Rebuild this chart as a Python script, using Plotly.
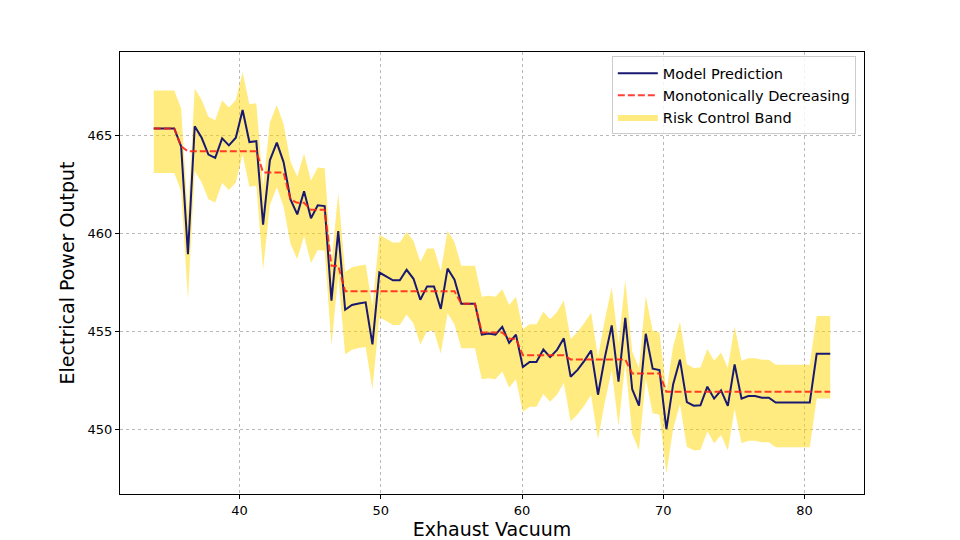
import plotly.graph_objects as go

# Exhaust vacuum grid (x values)
exhaust_vacuum = [
    33.93, 34.41, 34.90, 35.38, 35.87, 36.35, 36.83, 37.32, 37.80, 38.28,
    38.77, 39.25, 39.74, 40.22, 40.70, 41.19, 41.67, 42.15, 42.64, 43.12,
    43.61, 44.09, 44.57, 45.06, 45.54, 46.03, 46.51, 46.99, 47.48, 47.96,
    48.44, 48.93, 49.41, 49.90, 50.38, 50.86, 51.35, 51.83, 52.32, 52.80,
    53.28, 53.77, 54.25, 54.73, 55.22, 55.70, 56.19, 56.67, 57.15, 57.64,
    58.12, 58.60, 59.09, 59.57, 60.06, 60.54, 61.02, 61.51, 61.99, 62.48,
    62.96, 63.44, 63.93, 64.41, 64.89, 65.38, 65.86, 66.35, 66.83, 67.31,
    67.80, 68.28, 68.76, 69.25, 69.73, 70.22, 70.70, 71.18, 71.67, 72.15,
    72.63, 73.12, 73.60, 74.09, 74.57, 75.05, 75.54, 76.02, 76.50, 76.99,
    77.47, 77.96, 78.44, 78.92, 79.41, 79.89, 80.37, 80.86, 81.34, 81.82,
]

# Model prediction (electrical power output)
model_prediction = [
    465.36, 465.36, 465.36, 465.36, 464.44, 458.94, 465.47, 464.88, 464.02, 463.85,
    464.85, 464.49, 464.88, 466.30, 464.66, 464.71, 460.44, 463.73, 464.63, 463.64,
    461.73, 460.97, 462.15, 460.77, 461.43, 461.39, 456.56, 460.12, 456.10, 456.34,
    456.42, 456.48, 454.33, 458.00, 457.80, 457.60, 457.60, 458.14, 457.68, 456.61,
    457.29, 457.29, 456.14, 458.20, 457.63, 456.41, 456.41, 456.41, 454.83, 454.88,
    454.83, 455.22, 454.41, 454.83, 453.17, 453.43, 453.43, 454.07, 453.68, 454.05,
    454.64, 452.68, 453.03, 453.49, 454.02, 451.76, 453.65, 455.30, 452.43, 455.68,
    452.04, 451.20, 454.87, 453.09, 453.02, 450.00, 452.30, 453.55, 451.38, 451.20,
    451.22, 452.17, 451.56, 451.98, 451.19, 453.31, 451.56, 451.69, 451.69, 451.61,
    451.61, 451.36, 451.36, 451.36, 451.36, 451.36, 451.36, 453.85, 453.85, 453.85,
]

# Monotonically decreasing fit
monotone_fit = [
    465.36, 465.36, 465.36, 465.36, 464.44, 464.19, 464.19, 464.19, 464.19, 464.19,
    464.19, 464.19, 464.19, 464.19, 464.19, 464.19, 463.11, 463.11, 463.11, 463.11,
    461.73, 461.56, 461.56, 461.20, 461.20, 461.20, 458.34, 458.34, 457.04, 457.04,
    457.04, 457.04, 457.04, 457.04, 457.04, 457.04, 457.04, 457.04, 457.04, 457.04,
    457.04, 457.04, 457.04, 457.04, 457.04, 456.41, 456.41, 456.41, 454.94, 454.94,
    454.94, 454.94, 454.62, 454.62, 453.78, 453.78, 453.78, 453.78, 453.78, 453.78,
    453.78, 453.56, 453.56, 453.56, 453.56, 453.56, 453.56, 453.56, 453.56, 453.56,
    452.84, 452.84, 452.84, 452.84, 452.84, 451.91, 451.91, 451.91, 451.91, 451.91,
    451.91, 451.91, 451.91, 451.91, 451.91, 451.91, 451.91, 451.91, 451.91, 451.91,
    451.91, 451.91, 451.91, 451.91, 451.91, 451.91, 451.91, 451.91, 451.91, 451.91,
]

# Risk control band offsets (above / below prediction)
band_upper_offset = 1.93
band_lower_offset = 2.28
band_upper = [v + band_upper_offset for v in model_prediction]
band_lower = [v - band_lower_offset for v in model_prediction]

x_ticks = [40, 50, 60, 70, 80]
y_ticks = [450, 455, 460, 465]

FONT = "DejaVu Sans"

fig = go.Figure()

fig.add_trace(go.Scatter(
    x=exhaust_vacuum, y=band_lower, mode="lines",
    line=dict(width=0, color="rgba(0,0,0,0)"),
    showlegend=False, hoverinfo="skip",
))
fig.add_trace(go.Scatter(
    x=exhaust_vacuum, y=band_upper, mode="lines",
    line=dict(width=0, color="rgba(0,0,0,0)"),
    fill="tonexty", fillcolor="rgba(255,215,0,0.5)",
    name="Risk Control Band", legendrank=3,
))
fig.add_trace(go.Scatter(
    x=exhaust_vacuum, y=model_prediction, mode="lines",
    line=dict(color="#191970", width=2),
    name="Model Prediction", legendrank=1,
))
fig.add_trace(go.Scatter(
    x=exhaust_vacuum, y=monotone_fit, mode="lines",
    line=dict(color="rgba(255,30,20,0.85)", width=2, dash="7px,3px"),
    name="Monotonically Decreasing", legendrank=2,
))

axis_common = dict(
    showline=True, linecolor="black", linewidth=1, mirror=True,
    ticks="outside", ticklen=4, tickcolor="black", tickwidth=1,
    showgrid=True, gridcolor="#b8b8b8", gridwidth=0.8, griddash="dot",
    zeroline=False, automargin=False,
    tickfont=dict(family=FONT, size=13, color="black"),
)

fig.update_layout(
    width=960, height=540,
    paper_bgcolor="white", plot_bgcolor="white",
    margin=dict(l=112, r=104, t=44, b=54),
    font=dict(family=FONT, color="black"),
    xaxis=dict(
        range=[31.54, 84.21], tickvals=x_ticks,
        title=dict(text="Exhaust Vacuum", font=dict(family=FONT, size=19), standoff=6),
        **axis_common,
    ),
    yaxis=dict(
        range=[446.69, 469.26], tickvals=y_ticks,
        title=dict(text="Electrical Power Output", font=dict(family=FONT, size=19), standoff=7),
        **axis_common,
    ),
    legend=dict(
        x=0.989, y=0.99, xanchor="right", yanchor="top",
        bgcolor="rgba(255,255,255,0.8)", bordercolor="#cccccc", borderwidth=1,
        font=dict(family=FONT, size=14.5, color="black"),
        tracegroupgap=0, itemwidth=40, traceorder="normal",
    ),
    showlegend=True,
)

fig.write_html("out.html")
